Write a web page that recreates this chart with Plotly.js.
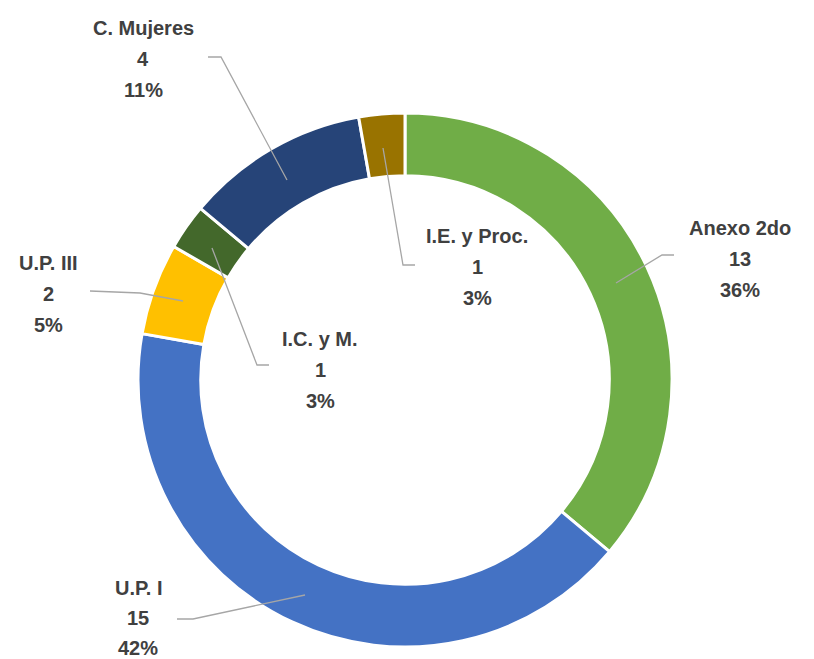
<!DOCTYPE html>
<html>
<head>
<meta charset="utf-8">
<script src="https://cdn.plot.ly/plotly-3.0.1.min.js"></script>
<style>html,body{margin:0;padding:0;background:#fff;}#chart{width:814px;height:659px;}</style>
</head>
<body>
<div id="chart"></div>
<script>
// Data
const categories = ["Anexo 2do", "U.P. I", "U.P. III", "I.C. y M.", "C. Mujeres", "I.E. y Proc."];
const values = [13, 15, 2, 1, 4, 1];
const percentLabels = ["36%", "42%", "5%", "3%", "11%", "3%"];
const colors = ["#70AD47", "#4472C4", "#FFC000", "#43682B", "#264478", "#997300"];

// Layout helpers (pixel positions for labels & leader lines)
const W = 814, H = 659;
const labelPos = [
  {x: 740, y: 228, gap: 31, line: [[674,255],[662,255],[616,283]]},
  {x: 138, y: 588, gap: 30, line: [[177,619],[193,619],[305,595]]},
  {x: 48,  y: 263, gap: 31, line: [[90,291],[140,293],[183,301]]},
  {x: 320, y: 339, gap: 31, line: [[269,365],[257,365],[212,248]]},
  {x: 143, y: 28,  gap: 31, line: [[208,57],[221,57],[287,180]]},
  {x: 477, y: 236, gap: 31, line: [[415,265],[403,265],[383,148]]}
];
const px = x => x / W;
const py = y => 1 - y / H;

const annotations = [];
const shapes = [];
const font = {family: "Liberation Sans, Arial, sans-serif", size: 20, color: "#404040", weight: "bold"};
categories.forEach((c, i) => {
  const p = labelPos[i];
  const lines = [c, String(values[i]), percentLabels[i]];
  lines.forEach((t, k) => {
    annotations.push({
      xref: "paper", yref: "paper", x: px(p.x), y: py(p.y + k * p.gap),
      text: t, showarrow: false, xanchor: "center", yanchor: "middle",
      font: font
    });
  });
  const path = p.line.map((pt, k) => (k ? "L" : "M") + px(pt[0]) + "," + py(pt[1])).join(" ");
  shapes.push({type: "path", xref: "paper", yref: "paper", path: path,
    line: {color: "#A6A6A6", width: 1.3}});
});

const cx = 405, cy = 380, R = 267;
const trace = {
  type: "pie",
  labels: categories,
  values: values,
  sort: false,
  direction: "clockwise",
  rotation: 0,
  hole: 0.765,
  textinfo: "none",
  marker: {colors: colors, line: {color: "#FFFFFF", width: 3}},
  domain: {x: [px(cx - R), px(cx + R)], y: [py(cy + R), py(cy - R)]},
  showlegend: false
};

const layout = {
  width: W, height: H,
  margin: {l: 0, r: 0, t: 0, b: 0},
  paper_bgcolor: "#FFFFFF",
  showlegend: false,
  annotations: annotations,
  shapes: shapes
};

Plotly.newPlot("chart", [trace], layout, {displayModeBar: false, staticPlot: true});
</script>
</body>
</html>
